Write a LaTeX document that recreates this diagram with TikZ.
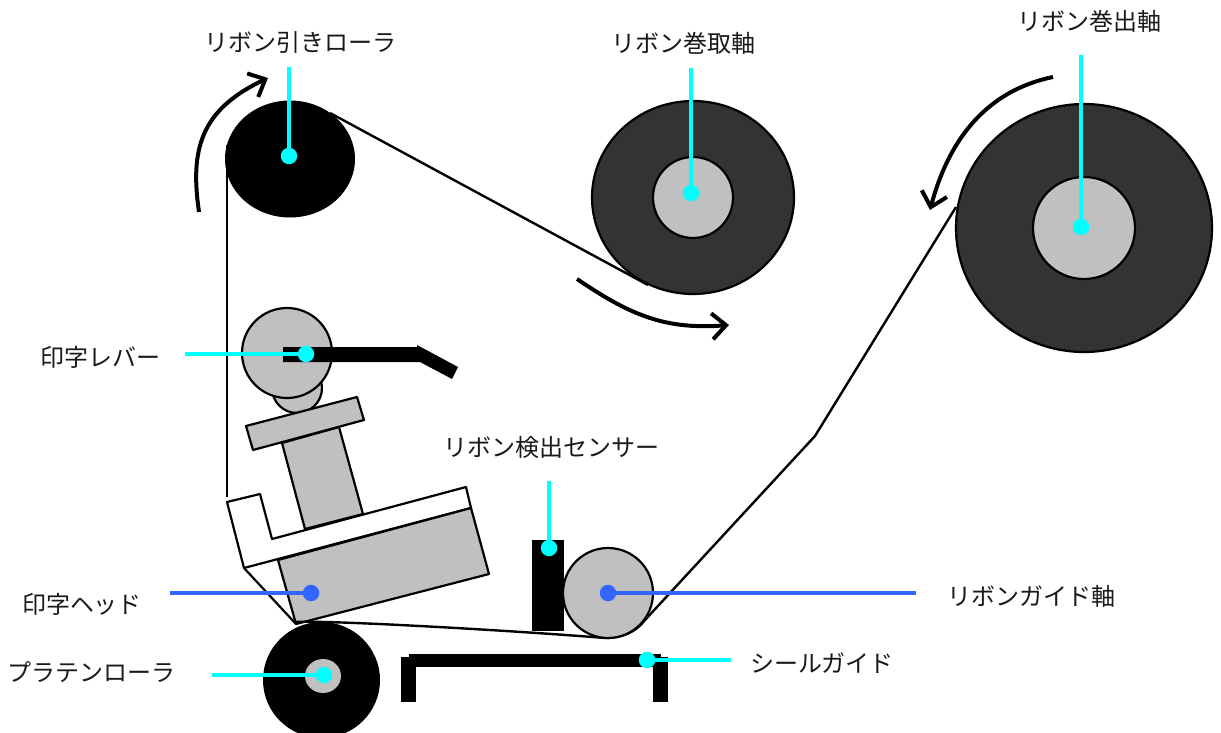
\documentclass[tikz,border=0pt]{standalone}
\usepackage{fontspec}
\setmainfont{Noto Sans CJK JP}
\usetikzlibrary{arrows.meta}
\definecolor{dark}{HTML}{333333}
\definecolor{midgrey}{HTML}{C0C0C0}
\definecolor{leadc}{HTML}{00FFFF}
\definecolor{leadb}{HTML}{3366FF}
\tikzset{
  x=1pt,y=-1pt,
  outl/.style={draw=black,line width=2.2pt,line join=round},
  greyp/.style={outl,fill=midgrey},
  ribbon/.style={draw=black,line width=2.4pt,line join=round},
  solidk/.style={fill=black},
  flow/.style={draw=black,line width=4pt,-{Straight Barb[length=14pt,width=26pt,line width=4pt]}},
  lab/.style={inner sep=0pt,font=\fontsize{24pt}{28pt}\selectfont,text=black!90},
  dotc/.style={circle,fill=leadc,minimum size=16.5pt,inner sep=0pt},
  dotb/.style={circle,fill=leadb,minimum size=16.5pt,inner sep=0pt},
  leadcl/.style={draw=leadc,line width=3.8pt},
  leadbl/.style={draw=leadb,line width=3.8pt},
}
\begin{document}
\begin{tikzpicture}
\useasboundingbox (0,0) rectangle (1221,733);
% ribbon under shapes
\draw[ribbon] (227,145) -- (227,497);
% rollers
\fill[black] (290,159) ellipse [x radius=65,y radius=58.5];
\draw[ribbon] (330,113) -- (648,285);
\draw[outl,fill=dark] (693,197.5) ellipse [x radius=101,y radius=96.5];
\draw[outl,fill=midgrey] (693,197.5) ellipse [x radius=40,y radius=40.5];
\draw[outl,fill=dark] (1084,228) ellipse [x radius=128,y radius=124];
\draw[outl,fill=midgrey] (1084,228) ellipse [x radius=51,y radius=51];
% lever assembly
\draw[greyp] (297,388) circle [radius=25];
\draw[greyp] (287,353) circle [radius=45];
\fill[black] (283,347) -- (417,347) -- (417,345) -- (458,367) -- (452,379) -- (420,362) -- (283,362) -- cycle;
\draw[greyp] (282,443) -- (339,427) -- (363,514) -- (305,529) -- cycle;
\draw[greyp] (246,426) -- (357,397) -- (364,420) -- (253,450) -- cycle;
% head
\draw[outl,fill=white] (227,502) -- (260,494) -- (272,539) -- (466,487) -- (471,508) -- (244,568) -- cycle;
\draw[greyp] (278,560) -- (471,508) -- (489,574) -- (296,624) -- cycle;
\draw[outl] (244,568) -- (296,624);
% platen
\fill[black] (321.5,680) ellipse [x radius=58.5,y radius=58];
\fill[midgrey] (323,676) ellipse [x radius=18,y radius=17];
% ribbon bottom
\draw[ribbon] (296,622) .. controls (330,620) and (520,631) .. (605,638) .. controls (622,638) and (636,632) .. (645,620) -- (815,436) -- (956,207);
% sensor, guide roller
\fill[black] (532,540) rectangle (564,631);
\draw[greyp] (608,593) circle [radius=45];
% seal guide
\fill[black] (409,654) rectangle (661,667);
\fill[black] (401,657) rectangle (416,702);
\fill[black] (653,657) rectangle (668,702);
% flow arrows
\draw[flow] (199,212) .. controls (190,150) and (200,110) .. (268,78);
\draw[flow] (1053,77) .. controls (990,90) and (950,135) .. (930,210);
\draw[flow] (577,279) .. controls (630,315) and (665,330) .. (729,325);
% labels
\node[lab] (t1) at (300,43) {リボン引きローラ};
\node[lab] (t2) at (683,43) {リボン巻取軸};
\node[lab] (t3) at (1089,21) {リボン巻出軸};
\node[lab] (t4) at (100,357) {印字レバー};
\node[lab] (t5) at (551,447) {リボン検出センサー};
\node[lab] (t6) at (82,604) {印字ヘッド};
\node[lab] (t7) at (1031,596) {リボンガイド軸};
\node[lab] (t8) at (822,663) {シールガイド};
\node[lab] (t9) at (92,672) {プラテンローラ};
% leader ends
\coordinate (e1) at (289,67);
\coordinate (e2) at (691,68);
\coordinate (e3) at (1081,55);
\coordinate (e4) at (185,354);
\coordinate (e5) at (549,481);
\coordinate (e6) at (170,593);
\coordinate (e7) at (916,593);
\coordinate (e8) at (731,660);
\coordinate (e9) at (212,675);
% dots
\node[dotc] (d1) at (289,156) {};
\node[dotc] (d2) at (691,193) {};
\node[dotc] (d3) at (1081,227) {};
\node[dotc] (d4) at (306,354) {};
\node[dotc] (d5) at (549,548) {};
\node[dotb] (d6) at (311,593) {};
\node[dotb] (d7) at (608,593) {};
\node[dotc] (d8) at (647,660) {};
\node[dotc] (d9) at (324,675) {};
\draw[leadcl] (e1) -- (d1);
\draw[leadcl] (e2) -- (d2);
\draw[leadcl] (e3) -- (d3);
\draw[leadcl] (e4) -- (d4);
\draw[leadcl] (e5) -- (d5);
\draw[leadbl] (e6) -- (d6);
\draw[leadbl] (e7) -- (d7);
\draw[leadcl] (e8) -- (d8);
\draw[leadcl] (e9) -- (d9);
\end{tikzpicture}
\end{document}
